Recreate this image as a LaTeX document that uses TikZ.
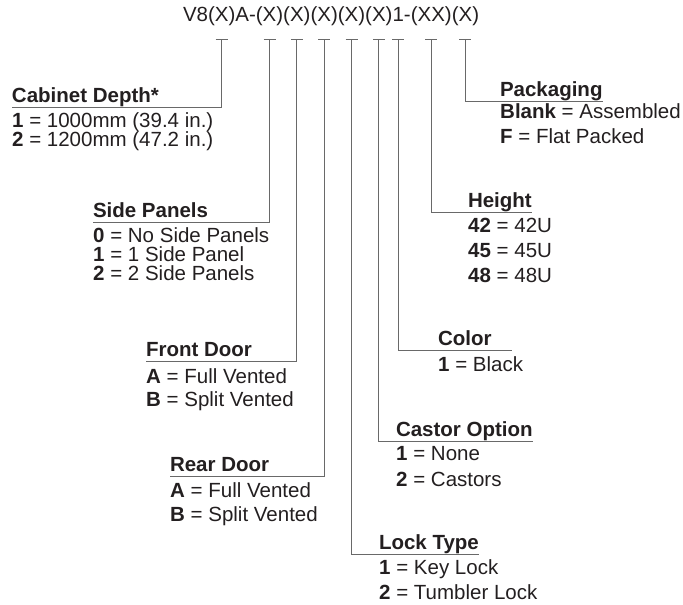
\documentclass[tikz,border=0pt]{standalone}
\usepackage{fontspec}
\setmainfont{Liberation Sans}
\usetikzlibrary{positioning}
\definecolor{texto}{RGB}{35,31,32}
\definecolor{gris}{RGB}{105,105,105}
\newcommand{\letra}{\fontsize{20.5}{24}\selectfont}
\tikzset{
  codigo/.style={inner sep=0pt, outer sep=0pt, text=texto, font=\letra},
  titulo/.style={anchor=south west, inner xsep=0pt, inner ysep=5pt, outer sep=0pt,
    text depth=0pt, text=texto, font=\letra\bfseries},
  opcion/.style={anchor=base west, inner sep=0pt, text=texto, font=\letra},
  raya/.style={draw=gris, line width=0.9pt},
}
\begin{document}
\begin{tikzpicture}[x=1pt,y=-1pt]
  \useasboundingbox (0,0) rectangle (683,605);

  % Codigo del modelo
  \node[codigo, anchor=base west] (v8) at (183,21) {V8};
  \node[codigo, base right=0pt of v8] (depth) {(X)};
  \node[codigo, base right=0pt of depth] (a) {A-};
  \node[codigo, base right=0pt of a] (side) {(X)};
  \node[codigo, base right=0pt of side] (front) {(X)};
  \node[codigo, base right=0pt of front] (rear) {(X)};
  \node[codigo, base right=0pt of rear] (lock) {(X)};
  \node[codigo, base right=0pt of lock] (castor) {(X)};
  \node[codigo, base right=0pt of castor] (color) {1};
  \node[codigo, base right=0pt of color] (guion) {-};
  \node[codigo, base right=0pt of guion] (height) {(XX)};
  \node[codigo, base right=0pt of height] (pack) {(X)};

  % Marcas bajo el codigo
  \coordinate (marca) at (0,39);
  \foreach \c in {depth,side,front,rear,lock,castor,color,height,pack}
    \draw[raya] (\c |- marca) ++(-6,0) -- ++(12,0);

  % Opciones a la izquierda
  \node[titulo] (depthhd) at (12,107) {Cabinet Depth*};
  \node[opcion] (depth1) at (12,127) {\textbf{1} = 1000mm (39.4 in.)};
  \node[opcion] (depth2) at (12,146) {\textbf{2} = 1200mm (47.2 in.)};

  \node[titulo] (sidehd) at (93,222) {Side Panels};
  \node[opcion] (side0) at (93,242) {\textbf{0} = No Side Panels};
  \node[opcion] (side1) at (93,261) {\textbf{1} = 1 Side Panel};
  \node[opcion] (side2) at (93,280) {\textbf{2} = 2 Side Panels};

  \node[titulo] (fronthd) at (146,361) {Front Door};
  \node[opcion] (fronta) at (146,383) {\textbf{A} = Full Vented};
  \node[opcion] (frontb) at (146,406) {\textbf{B} = Split Vented};

  \node[titulo] (rearhd) at (170,476) {Rear Door};
  \node[opcion] (reara) at (170,497) {\textbf{A} = Full Vented};
  \node[opcion] (rearb) at (170,521) {\textbf{B} = Split Vented};

  % Opciones a la derecha
  \node[titulo] (lockhd) at (379,554) {Lock Type};
  \node[opcion] (lock1) at (379,574) {\textbf{1} = Key Lock};
  \node[opcion] (lock2) at (379,599) {\textbf{2} = Tumbler Lock};

  \node[titulo] (castorhd) at (396,441) {Castor Option};
  \node[opcion] (castor1) at (396,460) {\textbf{1} = None};
  \node[opcion] (castor2) at (396,486) {\textbf{2} = Castors};

  \node[titulo] (colorhd) at (438,350) {Color};
  \node[opcion] (color1) at (438,371) {\textbf{1} = Black};

  \node[titulo] (heighthd) at (468,212) {Height};
  \node[opcion] (height42) at (468,232) {\textbf{42} = 42U};
  \node[opcion] (height45) at (468,257) {\textbf{45} = 45U};
  \node[opcion] (height48) at (468,282) {\textbf{48} = 48U};

  \node[titulo] (packhd) at (500,101) {Packaging};
  \node[opcion] (packb) at (500,118) {\textbf{Blank} = Assembled};
  \node[opcion] (packf) at (500,143) {\textbf{F} = Flat Packed};

  % Lineas de las marcas a los titulos
  \draw[raya] (depth |- marca) |- (depthhd.south west);
  \draw[raya] (side |- marca) |- (sidehd.south west);
  \draw[raya] (front |- marca) |- (fronthd.south west);
  \draw[raya] (rear |- marca) |- (rearhd.south west);
  \draw[raya] (lock |- marca) |- (lockhd.south east);
  \draw[raya] (castor |- marca) |- (castorhd.south east);
  \draw[raya] (color |- marca) |- ([xshift=20pt]colorhd.south east);
  \draw[raya] (height |- marca) |- (heighthd.south east);
  \draw[raya] (pack |- marca) |- (packhd.south east);
\end{tikzpicture}
\end{document}
